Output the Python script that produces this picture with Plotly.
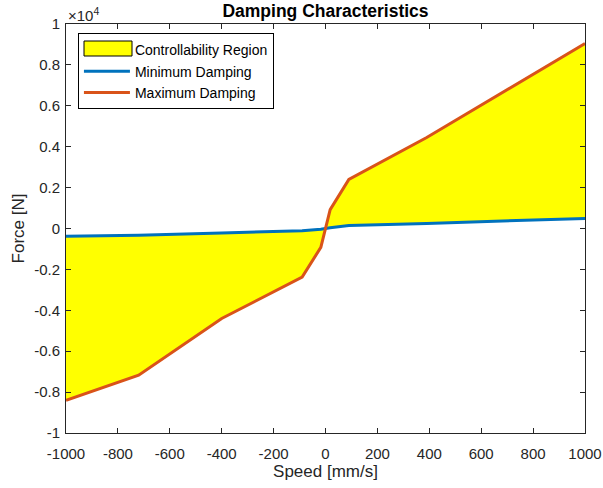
import plotly.graph_objects as go

speed = [-1000, -720, -400, -90, -18, 18, 90, 390, 1000]
max_damping = [-8400, -7170, -4400, -2380, -920, 920, 2400, 4450, 9050]
min_damping = [-380, -330, -220, -110, -40, 40, 150, 250, 490]

x_ticks = [-1000, -800, -600, -400, -200, 0, 200, 400, 600, 800, 1000]
x_labels = ["-1000", "-800", "-600", "-400", "-200", "0", "200", "400", "600", "800", "1000"]
y_ticks = [-10000, -8000, -6000, -4000, -2000, 0, 2000, 4000, 6000, 8000, 10000]
y_labels = ["-1", "-0.8", "-0.6", "-0.4", "-0.2", "0", "0.2", "0.4", "0.6", "0.8", "1"]

FONT = "Liberation Sans, Arial, Helvetica, sans-serif"
AX = "#262626"
W, H = 603, 488
L, R, T, B = 66, 18, 24, 55
PW, PH = W - L - R, H - T - B

fig = go.Figure()
# legend entry for the region (swatch drawn as a bordered box below)
fig.add_trace(go.Scatter(x=[None], y=[None], mode="lines",
                         line=dict(color="rgba(0,0,0,0)", width=0),
                         name="Controllability Region", hoverinfo="skip"))
fig.add_trace(go.Scatter(
    x=speed + speed[::-1], y=max_damping + min_damping[::-1],
    fill="toself", fillcolor="#FFFF00", mode="lines",
    line=dict(color="#FFFF00", width=0),
    name="Controllability Region", showlegend=False, hoverinfo="skip"))
fig.add_trace(go.Scatter(x=speed, y=min_damping, mode="lines",
                         line=dict(color="#0072BD", width=3), name="Minimum Damping"))
fig.add_trace(go.Scatter(x=speed, y=max_damping, mode="lines",
                         line=dict(color="#D95319", width=3), name="Maximum Damping"))

axis_common = dict(showgrid=False, zeroline=False, showline=True, linecolor=AX, linewidth=1,
                   mirror="ticks", ticks="inside", ticklen=5, tickcolor=AX,
                   tickfont=dict(family=FONT, size=15, color=AX))

fig.update_layout(
    width=W, height=H,
    margin=dict(l=L, r=R, t=T, b=B, autoexpand=False),
    plot_bgcolor="white", paper_bgcolor="white",
    font=dict(family=FONT, color=AX),
    title=dict(text="<b>Damping Characteristics</b>", x=(L + W - R) / 2 / W, xanchor="center",
               y=1 - 11 / H, yanchor="middle", font=dict(family=FONT, size=17.5, color="black")),
    xaxis=dict(range=[-1000, 1000], tickvals=x_ticks, ticktext=x_labels, ticklabelstandoff=7,
               title=dict(text="Speed [mm/s]", font=dict(family=FONT, size=17, color=AX), standoff=4),
               **axis_common),
    yaxis=dict(range=[-10000, 10000], tickvals=y_ticks, ticktext=y_labels, ticklabelstandoff=2,
               title=dict(text="Force [N]", font=dict(family=FONT, size=17, color=AX), standoff=5),
               **axis_common),
    legend=dict(x=0.023, y=0.977, xanchor="left", yanchor="top",
                bgcolor="rgba(0,0,0,0)", bordercolor="black", borderwidth=1, itemwidth=46,
                font=dict(family=FONT, size=14, color="black"), tracegroupgap=0),
    showlegend=True,
)
# legend swatch box (yellow with black border) for the region entry
fig.add_shape(type="rect", xref="paper", yref="paper",
              x0=(84 - L) / PW, x1=(132 - L) / PW,
              y0=(H - B - 56) / PH, y1=(H - B - 41) / PH,
              fillcolor="#FFFF00", line=dict(color="black", width=1), layer="above")
fig.add_annotation(xref="paper", yref="paper", x=0, y=1, xanchor="left", yanchor="bottom",
                   text="×10<sup>4</sup>", showarrow=False,
                   font=dict(family=FONT, size=15, color=AX), xshift=0, yshift=-2)

fig.write_html("out.html")
